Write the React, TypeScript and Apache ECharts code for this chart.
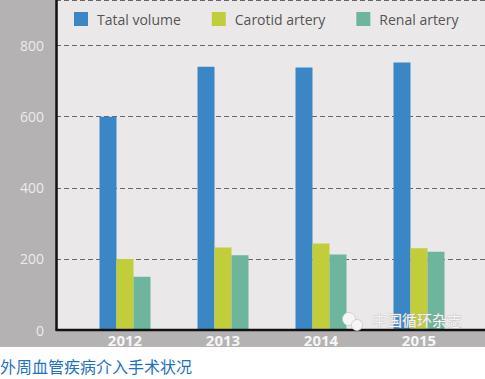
import React, { useEffect, useRef } from "react";
import * as echarts from "echarts";

const categories = ["2012", "2013", "2014", "2015"];
const totalVolume = [600, 740, 738, 752];
const carotidArtery = [200, 232, 243, 230];
const renalArtery = [150, 210, 212, 220];
const yTicks = [0, 200, 400, 600, 800];
const seriesNames = ["Tatal volume", "Carotid artery", "Renal artery"];
const titleText = "外周血管疾病介入手术状况";
const watermarkText = "中国循环杂志";

export default function App() {
  const ref = useRef<HTMLDivElement>(null);
  useEffect(() => {
    if (!ref.current) return;
    const chart = echarts.init(ref.current, undefined, { renderer: "svg" });
    const yMax = 928;
    const option: any = {
      animation: false,
      backgroundColor: "#ffffff",
      textStyle: { fontFamily: "'Open Sans', 'Noto Sans', sans-serif" },
      legend: {
        left: 74,
        top: 12,
        width: 411,
        padding: 0,
        itemWidth: 14,
        itemHeight: 14,
        itemGap: 31,
        icon: "rect",
        data: seriesNames,
        textStyle: { color: "#555555", fontSize: 14, padding: [0, 0, 0, 4], fontFamily: "'Open Sans', sans-serif" },
      },
      grid: [
        { left: 56, right: 0, top: 0, bottom: 49, containLabel: false },
        { left: 76, right: 17, top: 0, bottom: 49, containLabel: false },
      ],
      xAxis: [
        {
          gridIndex: 0,
          type: "category",
          data: [""],
          show: false,
        },
        {
          gridIndex: 1,
          type: "category",
          data: categories,
          axisLine: { show: false },
          axisTick: { show: false },
          axisLabel: {
            color: "#f6f6f6",
            fontSize: 15,
            fontWeight: "bold",
            margin: 2,
            fontFamily: "'Open Sans', sans-serif",
          },
        },
      ],
      yAxis: [
        {
          gridIndex: 0,
          type: "value",
          min: 0,
          max: yMax,
          interval: 200,
          axisLine: { show: false },
          axisTick: { show: false },
          axisLabel: {
            color: "#ececec",
            fontSize: 14,
            margin: 12,
            showMaxLabel: false,
            formatter: (v: number) => (yTicks.indexOf(v) >= 0 ? String(v) : ""),
          },
          splitLine: {
            show: true,
            lineStyle: { color: "#666666", width: 1, type: [5, 3] },
          },
        },
        {
          gridIndex: 1,
          type: "value",
          min: 0,
          max: yMax,
          interval: 200,
          show: false,
          splitLine: { show: false },
        },
      ],
      graphic: {
        elements: [
          { type: "rect", z: -10, shape: { x: 0, y: 0, width: 56, height: 347 }, style: { fill: "#b4b2b3" } },
          { type: "rect", z: -10, shape: { x: 0, y: 330, width: 485, height: 17 }, style: { fill: "#b4b2b3" } },
          { type: "rect", z: -10, shape: { x: 56, y: 0, width: 429, height: 330 }, style: { fill: "#ebe8e9" } },
          { type: "line", z: 50, shape: { x1: 56.5, y1: 0, x2: 56.5, y2: 331 }, style: { stroke: "#111111", lineWidth: 2.5 } },
          { type: "line", z: 50, shape: { x1: 56, y1: 330, x2: 485, y2: 330 }, style: { stroke: "#111111", lineWidth: 2.5 } },
          { type: "circle", z: 60, shape: { cx: 349, cy: 319, r: 6.5 }, style: { fill: "#f6f6f6", stroke: "#c8c8c8", lineWidth: 0.8 } },
          { type: "circle", z: 61, shape: { cx: 357, cy: 325, r: 5.5 }, style: { fill: "#f6f6f6", stroke: "#c8c8c8", lineWidth: 0.8 } },
          {
            type: "text",
            z: 60,
            x: 372,
            y: 319,
            style: {
              text: watermarkText,
              fill: "#f3f3f3",
              stroke: "#b0b0b0",
              lineWidth: 0.5,
              font: "15px 'Noto Sans CJK SC'",
              verticalAlign: "middle",
              align: "left",
            },
          },
          {
            type: "text",
            x: 0,
            y: 366,
            style: {
              text: titleText,
              fill: "#1f72c2",
              font: "16px 'Noto Sans CJK SC'",
              verticalAlign: "middle",
              align: "left",
            },
          },
        ],
      },
      series: [
        {
          name: seriesNames[0],
          type: "bar",
          xAxisIndex: 1,
          yAxisIndex: 1,
          data: totalVolume,
          barWidth: 17,
          barGap: "0%",
          itemStyle: { color: "#3b86c5" },
        },
        {
          name: seriesNames[1],
          type: "bar",
          xAxisIndex: 1,
          yAxisIndex: 1,
          data: carotidArtery,
          barWidth: 17,
          barGap: "0%",
          itemStyle: { color: "#c2cd3a" },
        },
        {
          name: seriesNames[2],
          type: "bar",
          xAxisIndex: 1,
          yAxisIndex: 1,
          data: renalArtery,
          barWidth: 17,
          barGap: "0%",
          itemStyle: { color: "#6db59c" },
        },
      ],
    };
    chart.setOption(option);
    return () => chart.dispose();
  }, []);
  return (
    <div
      ref={ref}
      style={{ position: "absolute", left: 0, top: 0, width: 485, height: 379 }}
    />
  );
}
